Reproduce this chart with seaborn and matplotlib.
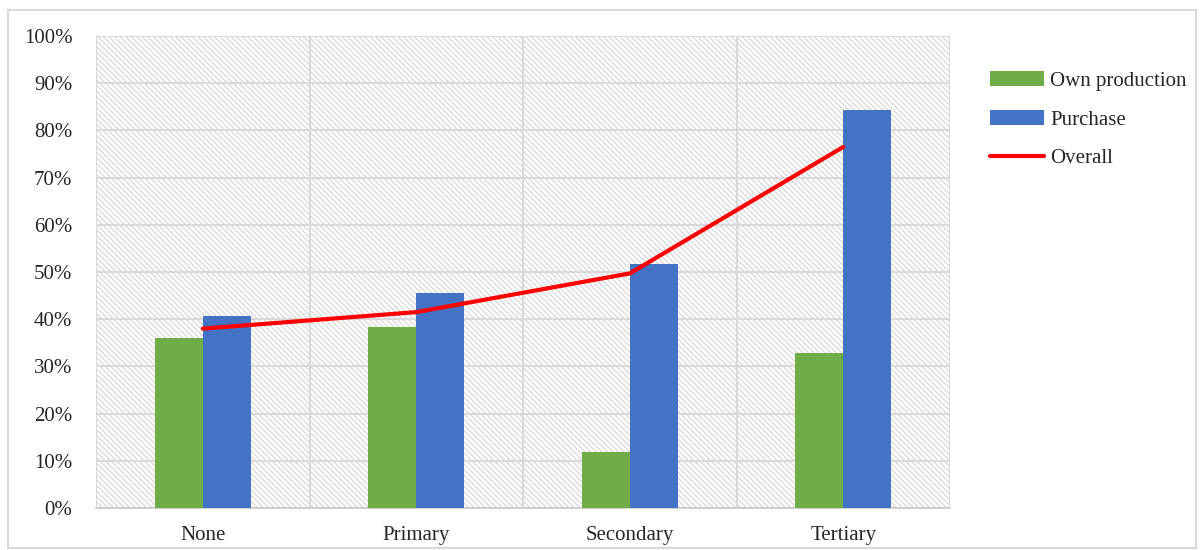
import numpy as np
import pandas as pd
import matplotlib
matplotlib.use("Agg")
import matplotlib.pyplot as plt
import seaborn as sns
from matplotlib.patches import Patch, Rectangle
from matplotlib.lines import Line2D
from matplotlib.ticker import PercentFormatter, FixedLocator

categories = ["None", "Primary", "Secondary", "Tertiary"]
own_production = [36.0, 38.3, 11.9, 32.9]
purchase = [40.7, 45.6, 51.8, 84.3]
overall = [38.0, 41.5, 49.7, 76.5]
series_names = ["Own production", "Purchase", "Overall"]
y_ticks = list(range(0, 101, 10))

sns.set_theme(style="white")
plt.rcParams["font.family"] = ["Liberation Serif", "DejaVu Serif"]
plt.rcParams["hatch.color"] = "#D4D4D4"
plt.rcParams["hatch.linewidth"] = 0.8

df = pd.DataFrame({
    "cat": categories * 2,
    "val": own_production + purchase,
    "series": [series_names[0]] * 4 + [series_names[1]] * 4,
})

fig = plt.figure(figsize=(12, 5.5), dpi=100)
ax = fig.add_axes([0.08, 0.0764, 0.7117, 0.8581])

# hatched background
ax.patch.set_facecolor("white")
ax.patch.set_hatch("\\\\\\\\\\\\")
ax.patch.set_edgecolor("#D4D4D4")
ax.patch.set_linewidth(0)

colors = {"Own production": "#70AD47", "Purchase": "#4472C4"}
sns.barplot(data=df, x="cat", y="val", hue="series", palette=colors,
            width=0.45, ax=ax, legend=False, saturation=1, zorder=3,
            linewidth=0)
sns.lineplot(x=np.arange(len(categories)), y=overall, color="#FF0000",
             linewidth=3, ax=ax, zorder=4, legend=False)

ax.set_xlim(-0.5, len(categories) - 0.5)
ax.set_ylim(0, 100)
ax.set_yticks(y_ticks)
ax.yaxis.set_major_formatter(PercentFormatter(decimals=0))
ax.set_xticks(np.arange(len(categories)))
ax.set_xticklabels(categories)
ax.xaxis.set_minor_locator(FixedLocator(np.arange(-0.5, len(categories), 1.0)))
ax.set_xlabel("")
ax.set_ylabel("")

ax.tick_params(axis="x", which="major", length=0, pad=13, labelsize=15, colors="#262626")
ax.tick_params(axis="x", which="minor", length=7, width=1.2, color="#C8C8C8", direction="out")
ax.tick_params(axis="y", length=0, pad=17, labelsize=15, colors="#262626")

ax.grid(axis="y", which="major", color="#D9D9D9", linewidth=1.5, zorder=1)
ax.grid(axis="x", which="minor", color="#D9D9D9", linewidth=1.5, zorder=1)
ax.grid(axis="x", which="major", visible=False)
ax.set_axisbelow(True)

for s in ["top", "right", "left"]:
    ax.spines[s].set_visible(False)
ax.spines["bottom"].set_color("#C8C8C8")
ax.spines["bottom"].set_linewidth(1.2)

handles = [Patch(facecolor="#70AD47", edgecolor="none"),
           Patch(facecolor="#4472C4", edgecolor="none"),
           Line2D([0], [0], color="#FF0000", linewidth=3)]
fig.legend(handles, series_names, loc="upper left", bbox_to_anchor=(0.818, 0.886),
           frameon=False, fontsize=15, handlelength=2.6, handleheight=0.75,
           labelspacing=0.9, handletextpad=0.3, borderaxespad=0)

# figure border
fig.add_artist(Rectangle((0.007, 0.004), 0.99, 0.978, transform=fig.transFigure,
                         fill=False, edgecolor="#D9D9D9", linewidth=1.5))

fig.savefig("out.png", dpi=100)
